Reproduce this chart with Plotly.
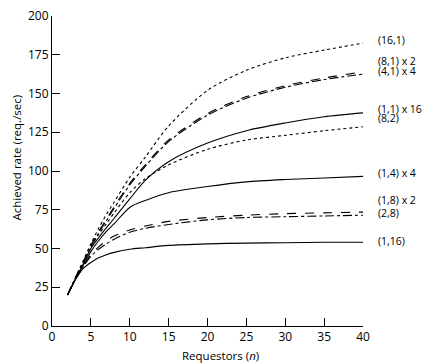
import plotly.graph_objects as go

n = [2, 3, 4, 5, 6, 7, 8, 10, 12, 15, 20, 25, 30, 35, 40]

s16_1 = [20, 31, 42, 53, 63, 72, 80, 96, 109, 129, 152, 165, 173, 178, 182.5]
s8_1x2 = [20, 31, 41, 52, 61, 69, 77, 92, 104, 120, 137, 148, 155, 160, 164]
s4_1x4 = [20, 31, 41, 51, 60, 68, 76, 91, 103, 119, 136, 147, 154, 159, 162.5]
s1_1x16 = [20, 30, 40, 50, 57, 63.5, 69.5, 82, 94, 106, 118, 126, 131, 135, 137.5]
s8_2 = [20, 31, 41, 51, 59, 66, 73, 86, 95, 104, 114, 120, 123, 126, 128.5]
s1_4x4 = [20, 30, 39, 48, 55, 61, 66, 76.5, 81, 86, 90, 93, 94.5, 95.5, 96.5]
s1_8x2 = [20, 30, 38, 46, 51, 55, 58, 62, 64.5, 67.5, 70, 71.5, 72.5, 73, 73.5]
s2_8 = [20, 30, 38, 45, 49.5, 53, 56, 60.5, 63, 65.5, 68.5, 70, 70.5, 71, 71.5]
s1_16 = [20, 30, 37, 41, 44, 46, 47.5, 49.5, 50.5, 52, 53, 53.5, 53.7, 54, 54]

labels = ["(16,1)", "(8,1) x 2", "(4,1) x 4", "(1,1) x 16", "(8,2)",
          "(1,4) x 4", "(1,8) x 2", "(2,8)", "(1,16)"]
series = [s16_1, s8_1x2, s4_1x4, s1_1x16, s8_2, s1_4x4, s1_8x2, s2_8, s1_16]
dashes = ["dot", "dash", "dashdot", "solid", "dot", "solid", "dash", "dashdot", "solid"]
label_y = [184.5, 171, 164.5, 140, 134, 98.7, 81.3, 72.9, 54.8]

x_ticks = [0, 5, 10, 15, 20, 25, 30, 35, 40]
y_ticks = [0, 25, 50, 75, 100, 125, 150, 175, 200]

FONT = "Open Sans"

fig = go.Figure()
for name, ys, d in zip(labels, series, dashes):
    fig.add_trace(go.Scatter(
        x=n, y=ys, mode="lines", name=name,
        line=dict(color="black", width=1.1, dash=d, shape="spline", smoothing=0.8),
        showlegend=False, hoverinfo="skip"))

for name, ly in zip(labels, label_y):
    fig.add_annotation(x=40, y=ly, xref="x", yref="y", text=name,
                       showarrow=False, xanchor="left", yanchor="middle",
                       xshift=13, font=dict(family=FONT, size=10.5, color="black"))

fig.add_annotation(x=0.543, y=-0.095, xref="paper", yref="paper",
                   text="Requestors (<i>n</i>)", showarrow=False,
                   xanchor="center", yanchor="middle",
                   font=dict(family=FONT, size=11.5, color="black"))
fig.add_annotation(x=-0.114, y=0.542, xref="paper", yref="paper",
                   text="Achieved rate (req./sec)", showarrow=False, textangle=-90,
                   xanchor="center", yanchor="middle",
                   font=dict(family=FONT, size=11.5, color="black"))

# page body has an 8px margin, so the figure is sized/margined to compensate
fig.update_layout(
    width=431, height=356,
    margin=dict(l=44, r=76, t=8, b=38, autoexpand=False),
    paper_bgcolor="white", plot_bgcolor="white",
    font=dict(family=FONT, size=12, color="black"),
    xaxis=dict(range=[0, 40], tickvals=x_ticks, ticks="inside", ticklen=8,
               tickcolor="black", showline=True, linecolor="black", linewidth=1,
               showgrid=False, zeroline=False, fixedrange=True, automargin=False,
               ticklabeloverflow="allow"),
    yaxis=dict(range=[0, 200], tickvals=y_ticks, ticks="inside", ticklen=8,
               tickcolor="black", showline=True, linecolor="black", linewidth=1,
               showgrid=False, zeroline=False, fixedrange=True, automargin=False,
               ticklabeloverflow="allow"),
)

fig.write_html("out.html")
